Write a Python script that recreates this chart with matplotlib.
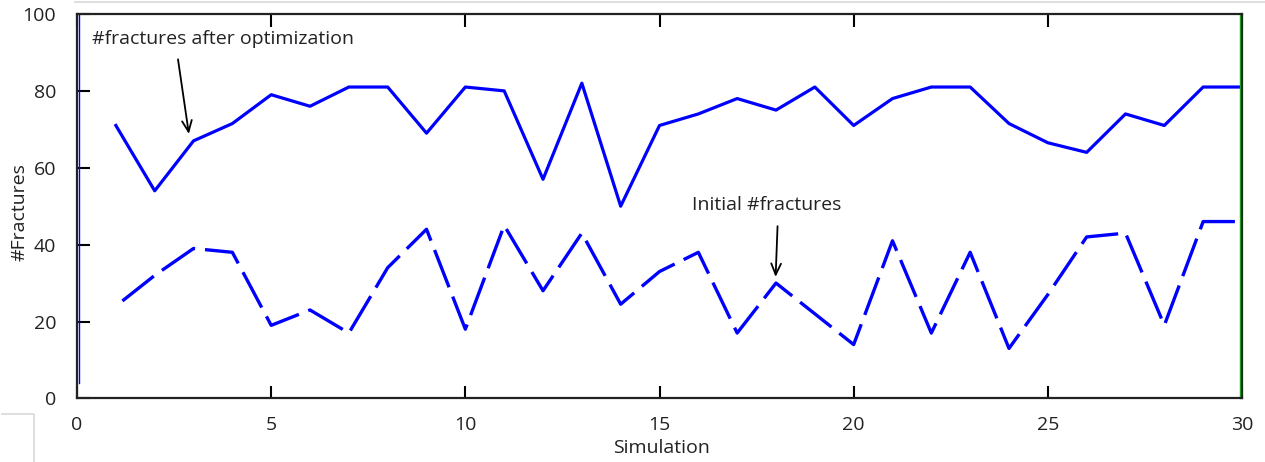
import matplotlib
matplotlib.use('Agg')
import matplotlib.pyplot as plt
from matplotlib.lines import Line2D
from matplotlib.transforms import offset_copy

plt.rcParams['font.family'] = ['Open Sans', 'DejaVu Sans']

# data
simulation = list(range(1, 31))
after_optimization = [71, 54, 67, 71.5, 79, 76, 81, 81, 69, 81,
                      80, 57, 82, 50, 71, 74, 78, 75, 81, 71,
                      78, 81, 81, 71.5, 66.5, 64, 74, 71, 81, 81]
initial = [24, 32, 39, 38, 19, 23, 17, 34, 44, 18,
           45, 28, 43, 24.5, 33, 38, 17, 30, 22, 14,
           41, 17, 38, 13, 27, 42, 43, 19, 46, 46]
x_ticks = [0, 5, 10, 15, 20, 25, 30]
y_ticks = [0, 20, 40, 60, 80, 100]

fig = plt.figure(figsize=(12.65, 4.62), dpi=100)
ax = fig.add_axes([0.0609, 0.1377, 0.9209, 0.8320])

ax.plot(simulation, after_optimization, color='#0000ff', lw=2.3)
ax.plot(simulation, initial, color='#0000ff', lw=2.4,
        linestyle=(12.5, (12, 3)))

ax.set_xlim(0, 30)
ax.set_ylim(0, 100)
ax.set_xticks(x_ticks)
ax.set_yticks(y_ticks)

ax.tick_params(axis='both', direction='in', length=9, width=1.5,
               labelsize=14, labelcolor='#222222', top=True, right=False)
ax.tick_params(axis='x', pad=13)
ax.tick_params(axis='y', pad=15)

for side in ['left', 'bottom', 'top', 'right']:
    ax.spines[side].set_linewidth(1.6)
    ax.spines[side].set_color('#222222')
ax.spines['right'].set_color('#113311')

# thin coloured edges just inside the left and right frame
xaxis_tr = ax.get_xaxis_transform()
ax.plot([0, 0], [0.04, 1], color='#0000ff', lw=1.0, clip_on=False,
        transform=offset_copy(xaxis_tr, fig=fig, x=2, y=0, units='dots'))
ax.plot([30, 30], [0, 1], color='#22aa22', lw=1.0, clip_on=False,
        transform=offset_copy(xaxis_tr, fig=fig, x=-2, y=0, units='dots'))

ax.set_xlabel('Simulation', fontsize=14, color='#222222')
ax.set_ylabel('#Fractures', fontsize=14, color='#222222')
ax.xaxis.set_label_coords(0.502, -0.105)
ax.yaxis.set_label_coords(-0.042, 0.485)

# annotations
ax.text(0.39, 93.6, '#fractures after optimization', fontsize=14,
        color='#222222', va='center', ha='left')
ax.annotate('', xy=(2.88, 68.8), xytext=(2.60, 88.2),
            arrowprops=dict(arrowstyle='->,head_length=0.8,head_width=0.35',
                            color='black', lw=1.3, shrinkA=0, shrinkB=0))
ax.text(15.83, 50.4, 'Initial #fractures', fontsize=14,
        color='#222222', va='center', ha='left')
ax.annotate('', xy=(17.99, 31.6), xytext=(18.04, 44.8),
            arrowprops=dict(arrowstyle='->,head_length=0.8,head_width=0.35',
                            color='black', lw=1.3, shrinkA=0, shrinkB=0))

# faint screenshot borders around the chart
fig.add_artist(Line2D([0.059, 1.0], [0.9963, 0.9963], color='#d8d8d8', lw=1.2))
fig.add_artist(Line2D([0.0016, 0.0269, 0.0269], [0.1039, 0.1039, 0.0],
                      color='#d8d8d8', lw=1.2))

fig.savefig('out.png', dpi=100)
